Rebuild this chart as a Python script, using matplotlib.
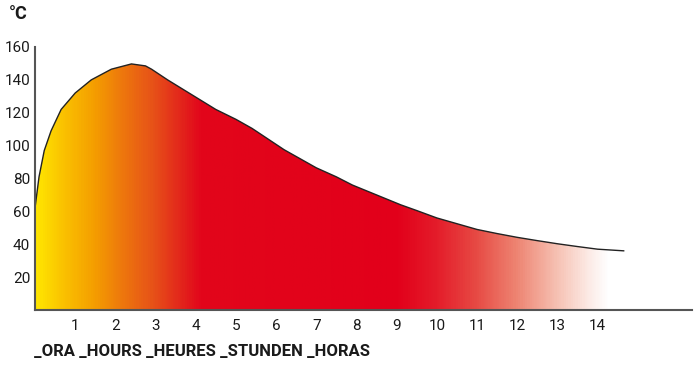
import numpy as np
import matplotlib.pyplot as plt
from matplotlib.colors import LinearSegmentedColormap
from matplotlib.patches import Polygon

# temperature curve (hours, degrees C)
hours = [0, 0.1, 0.23, 0.4, 0.65, 1, 1.4, 1.9, 2.4, 2.75, 2.9, 3.3, 3.7, 4.1, 4.5,
         5.0, 5.4, 5.8, 6.2, 6.6, 7.0, 7.5, 7.9, 8.5, 9.1, 9.5, 10, 10.5, 11, 11.5,
         12, 12.5, 13, 13.5, 14, 14.65]
temps = [62, 81, 97, 109, 122, 132, 140, 146.5, 149.7, 148.5, 146.5, 140, 134, 128,
         122, 116, 110.5, 104, 97.5, 92, 86.5, 81, 76, 70, 64, 60.5, 56, 52.5, 49,
         46.5, 44.2, 42.2, 40.3, 38.6, 37, 36]

x_ticks = list(range(1, 15))
y_ticks = [20, 40, 60, 80, 100, 120, 140, 160]
xlabel = "_ORA _HOURS _HEURES _STUNDEN _HORAS"
unit = "°C"

# horizontal fill gradient, stops given in hours
grad_hours = [0, 0.7, 1.4, 2.1, 2.9, 3.6, 4.1, 9.0, 10.0, 11.0, 12.0, 13.0, 13.8, 14.3]
grad_cols = ["#FFE600", "#FAC000", "#F5A000", "#EE7A0C", "#E75218", "#E3261C",
             "#E2061B", "#E2001A", "#E41C2A", "#E74A44", "#EE8472", "#F6C0B2",
             "#FCEAE5", "#FFFFFF"]

plt.rcParams['font.family'] = ['Roboto', 'DejaVu Sans']

fig = plt.figure(figsize=(7, 3.65), dpi=100)
ax = fig.add_axes([35 / 700, 1 - 310 / 365, (692 - 35) / 700, (310 - 47) / 365])
ax.set_xlim(0, 16.35)
ax.set_ylim(0, 160)

x_end = hours[-1]
cmap = LinearSegmentedColormap.from_list(
    "heat", [(min(h / x_end, 1.0), c) for h, c in zip(grad_hours, grad_cols)] + [(1.0, "#FFFFFF")])
img = ax.imshow(np.linspace(0, 1, 600).reshape(1, -1), cmap=cmap, aspect='auto',
                extent=[0, x_end, 0, 160], origin='lower', zorder=1)
poly = Polygon(list(zip(hours, temps)) + [(x_end, 0), (0, 0)], closed=True,
               facecolor='none', edgecolor='none', transform=ax.transData)
ax.add_patch(poly)
img.set_clip_path(poly)
ax.plot(hours, temps, color='#222222', lw=1.0, zorder=3, solid_joinstyle='round')

ax.set_xticks(x_ticks)
ax.set_yticks(y_ticks)
ax.tick_params(length=0, labelsize=11, colors='#1a1a1a')
ax.tick_params(axis='y', pad=3.5)
ax.tick_params(axis='x', pad=6.5)
for s in ['top', 'right']:
    ax.spines[s].set_visible(False)
for s in ['left', 'bottom']:
    ax.spines[s].set_color('#555555')
    ax.spines[s].set_linewidth(1.5)
    ax.spines[s].set_zorder(4)

fig.text(9 / 700, 1 - 14 / 365, unit, fontsize=13, fontweight='bold',
         va='center', ha='left', color='#1a1a1a')
fig.text(34 / 700, 1 - 352 / 365, xlabel, fontsize=12, fontweight='bold',
         va='center', ha='left', color='#1a1a1a')

fig.savefig("out.png", dpi=100)
